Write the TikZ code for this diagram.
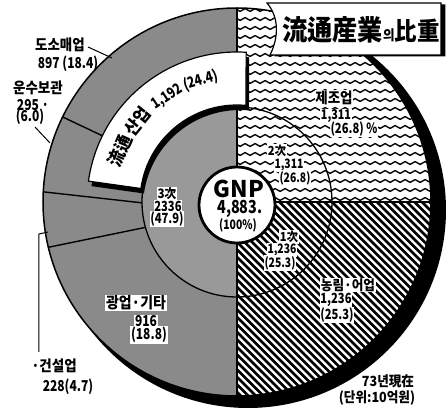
\documentclass[tikz,border=0pt]{standalone}
\usepackage{fontspec}
\newfontfamily\kr{Noto Sans CJK KR}
\newfontfamily\krk[FakeStretch=0.9]{Noto Sans CJK KR}
\newfontfamily\krn[FakeStretch=0.8]{Noto Sans CJK KR}
\usetikzlibrary{decorations.pathmorphing}
\begin{document}
\begin{tikzpicture}[x=1pt,y=1pt,
  kl/.style={font=\krk\bfseries\fontsize{#1}{#1}\selectfont, inner sep=0.8pt},
  nl/.style={font=\krn\bfseries\fontsize{#1}{#1}\selectfont, inner sep=0.8pt},
  wkl/.style={kl=#1, fill=white},
  wnl/.style={nl=#1, fill=white},
  bandk/.style={font=\krk\bfseries\fontsize{18}{18}\selectfont, inner sep=0pt, anchor=base},
  bandn/.style={font=\krn\bfseries\fontsize{15}{15}\selectfont, inner sep=0pt, anchor=base},
  divider/.style={line width=1.4pt},
  leader/.style={line width=1pt},
  wave/.style={line width=1.4pt, decorate, decoration={snake, amplitude=1.4pt, segment length=10pt}},
  stripe/.style={line width=2.6pt}]
\useasboundingbox (-237,-210) rectangle (211,202);

% drop shadow of the disc
\fill[black] (11,-8) circle[radius=198];

% tertiary (left half)
\fill[black!46] (90:194) arc[start angle=90,end angle=270,radius=194] -- cycle;
\fill[black!40] (90:95) arc[start angle=90,end angle=270,radius=95] -- cycle;

% secondary (top right): wavy lines
\fill[white] (0,0) -- (0:194) arc[start angle=0,end angle=90,radius=194] -- cycle;
\begin{scope}
  \clip (0,0) -- (0:194) arc[start angle=0,end angle=90,radius=194] -- cycle;
  \foreach \yy in {3,12,...,200} \draw[wave] (-5,\yy) -- (205,\yy);
\end{scope}

% primary (bottom right): hatching
\fill[white] (0,0) -- (270:194) arc[start angle=270,end angle=360,radius=194] -- cycle;
\begin{scope}
  \clip (0,0) -- (270:194) arc[start angle=270,end angle=360,radius=194] -- cycle;
  \foreach \c in {-205,-197.5,...,205} \draw[stripe] (\c-10,10) -- (\c+215,-215);
\end{scope}

% outlines and dividers
\draw[line width=1.5pt] (0,0) circle[radius=194];
\draw[line width=1.3pt] (0,0) circle[radius=95];
\draw[divider] (0,0) -- (90:194);
\draw[divider] (0,0) -- (0:194);
\draw[divider] (0,0) -- (270:194);
\draw[divider] (180.5:95) -- (177:194);
\draw[divider] (195.5:95) -- (193.5:194);
\draw[divider] (153.3:95) -- (154:194);

% distribution band
\fill[black, shift={(3,-5)}] (172:150) arc[start angle=172,end angle=86.5,radius=150] -- (84.7:97) arc[start angle=84.7,end angle=172,radius=97] -- cycle;
\filldraw[fill=white, line width=1.2pt] (172:150) arc[start angle=172,end angle=86.5,radius=150] -- (84.7:97) arc[start angle=84.7,end angle=172,radius=97] -- cycle;
\node[bandk, rotate=156.5-90] (band1) at (156.5:121) {流通};
\node[bandk, rotate=141-90] (band2) at (141:121) {산업};
\node[bandn, rotate=123.5-90] (band3) at (123.5:122) {1,192};
\node[bandn, rotate=106.5-90] (band4) at (106.5:122) {(24.4)};

% GNP circle
\filldraw[fill=white, line width=2.8pt] (0,-3) circle[radius=38];
\node[font=\kr\bfseries\fontsize{23}{23}\selectfont, inner sep=0pt] (gnp) at (2,13) {GNP};
\node[font=\krn\bfseries\fontsize{18}{18}\selectfont, inner sep=0pt] (gnpv) at (3,-7) {4,883.};
\node[nl=13] (gnpp) at (1,-23) {(100\%)};

% inner ring labels
\node[wkl=13] (t3a) at (-70,8) {3次};
\node[wnl=14] (t3b) at (-69,-4) {2336};
\node[wnl=14] (t3c) at (-70,-17) {(47.9)};
\node[wkl=12.5] (t2a) at (40,51) {2次};
\node[wnl=13] (t2b) at (52,37) {1,311};
\node[wnl=13] (t2c) at (58,24) {(26.8)};
\node[wkl=12.5] (t1a) at (52,-35) {1次};
\node[wnl=13] (t1b) at (45,-48) {1,236};
\node[wnl=13] (t1c) at (43,-61) {(25.3)};

% outer ring labels inside
\node[wkl=15] (mfa) at (97,104) {제조업};
\node[wnl=13.5] (mfb) at (99,86) {1,311};
\node[wnl=14] (mfc) at (117,73) {(26.8) \%};
\node[wkl=14] (aga) at (111,-83) {농림·어업};
\node[wnl=14] (agb) at (99,-98) {1,236};
\node[wnl=14] (agc) at (100,-113) {(25.3)};
\node[wkl=15.5] (mia) at (-101,-101) {광업·기타};
\node[wnl=15] (mib) at (-91,-119) {916};
\node[wnl=15] (mic) at (-88,-133) {(18.8)};

% outside labels
\node[kl=15] (wsa) at (-177,157) {도소매업};
\node[nl=15] (wsb) at (-169,138) {897 (18.4)};
\node[kl=15] (tra) at (-199,114) {운수보관};
\node[nl=15, anchor=west] (trb) at (-221,97) {295 ·};
\node[nl=15] (trc) at (-207,85) {(6.0)};
\node[kl=15] (coa) at (-183,-164) {·건설업};
\node[nl=15] (cob) at (-169,-185) {228(4.7)};
\node[kl=14] (yra) at (151,-179) {73년現在};
\node[kl=14] (yrb) at (140,-196) {(단위:10억원)};

% leaders
\coordinate (ws1) at (-149,155);
\coordinate (ws2) at (-125,144);
\draw[leader] (ws1) -- (ws2);
\coordinate (tr1) at (-202,75);
\coordinate (tr2) at (-187,59);
\draw[leader] (tr1) -- (tr2);
\coordinate (co1) at (-198,-150);
\coordinate (co2) at (-198,-32);
\coordinate (co3) at (-189,-30);
\draw[leader] (co1) -- (co2) -- (co3);

% title box
\fill[black, shift={(4.5,-1.5)}] (30,199) -- (204,199) -- (204,147) -- (33,147) .. controls (42,165) and (42,185) .. (30,199) -- cycle;
\filldraw[fill=white, line width=1.2pt] (30,199) -- (204,199) -- (204,147) -- (33,147) .. controls (42,165) and (42,185) .. (30,199) -- cycle;
\node[font=\krk\bfseries, inner sep=0pt] (title) at (124,172)
  {{\fontsize{28}{28}\selectfont 流通産業}{\fontsize{14}{14}\selectfont 의}{\fontsize{25}{25}\selectfont 比重}};
\end{tikzpicture}
\end{document}
